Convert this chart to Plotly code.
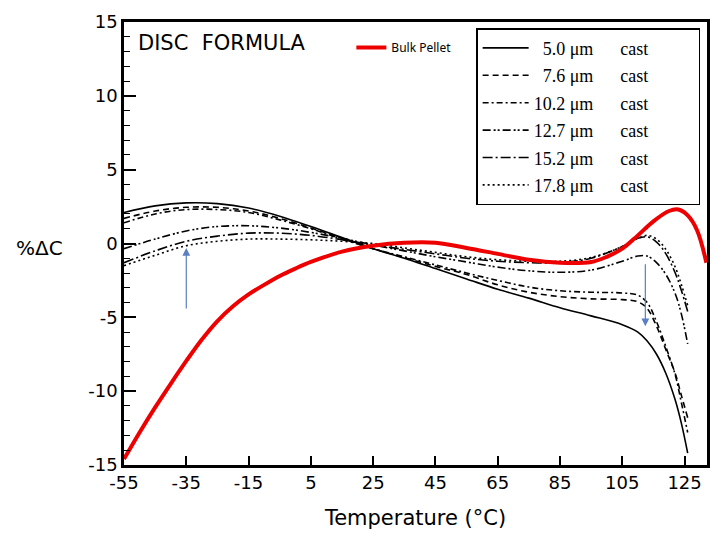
import plotly.graph_objects as go

# ---------------- data ----------------
temp_film = [-55, -45, -35, -25, -15, -5, 5, 15, 25, 35, 45, 55, 65, 75, 85, 95,
             105, 110, 113, 116, 119, 122, 124, 126]

film_5_0 = [2.1, 2.55, 2.75, 2.7, 2.4, 1.85, 1.15, 0.4, -0.35, -1.0, -1.7, -2.4, -3.1,
            -3.7, -4.35, -4.9, -5.5, -6.0, -6.6, -7.5, -8.8, -10.6, -12.2, -14.2]
film_7_6 = [1.7, 2.2, 2.45, 2.45, 2.2, 1.7, 1.05, 0.35, -0.35, -0.95, -1.55, -2.1, -2.8,
            -3.3, -3.6, -3.75, -3.8, -3.95, -4.4, -5.6, -7.2, -8.8, -10.3, -11.8]
film_10_2 = [1.4, 2.0, 2.3, 2.3, 2.1, 1.6, 1.0, 0.3, -0.35, -0.9, -1.45, -2.0, -2.5,
             -2.95, -3.2, -3.3, -3.35, -3.5, -4.0, -5.3, -7.0, -8.9, -10.8, -12.8]
film_12_7 = [-0.35, 0.3, 0.85, 1.15, 1.2, 1.05, 0.75, 0.35, -0.1, -0.5, -0.9, -1.25, -1.6,
             -1.85, -1.95, -1.8, -1.2, -0.85, -0.85, -1.3, -2.1, -3.4, -4.8, -6.8]
film_15_2 = [-1.3, -0.5, 0.15, 0.5, 0.7, 0.7, 0.55, 0.25, -0.1, -0.4, -0.7, -1.0, -1.2,
             -1.3, -1.3, -1.0, -0.2, 0.35, 0.45, 0.1, -0.7, -2.0, -3.2, -4.6]
film_17_8 = [-1.5, -0.8, -0.15, 0.15, 0.3, 0.3, 0.25, 0.15, 0.0, -0.3, -0.6, -0.9, -1.1,
             -1.2, -1.2, -0.95, -0.2, 0.35, 0.55, 0.3, -0.4, -1.6, -2.8, -4.2]

temp_bulk = [-55, -50, -45, -40, -35, -30, -25, -20, -15, -10, -5, 0, 5, 15, 25, 35, 45,
             55, 65, 75, 85, 95, 100, 105, 110, 115, 120, 123, 126, 129, 132]
bulk_pellet = [-14.6, -12.8, -11.1, -9.5, -7.95, -6.5, -5.25, -4.25, -3.45, -2.8, -2.2, -1.7,
               -1.25, -0.55, -0.15, 0.05, 0.05, -0.3, -0.7, -1.1, -1.3, -1.25, -0.9, -0.35,
               0.55, 1.5, 2.2, 2.3, 1.9, 0.9, -1.3]

film_names = ["\u20025.0 \u03bcm", "\u20027.6 \u03bcm", "10.2 \u03bcm", "12.7 \u03bcm",
              "15.2 \u03bcm", "17.8 \u03bcm"]
film_series = [film_5_0, film_7_6, film_10_2, film_12_7, film_15_2, film_17_8]
film_dashes = ["solid", "6px,4px", "6px,3px,2px,3px", "8px,3px,2px,2px,2px,3px",
               "10px,3px,2px,3px", "2px,3px"]

x_ticks = [-55, -35, -15, 5, 25, 45, 65, 85, 105, 125]
y_ticks = [-15, -10, -5, 0, 5, 10, 15]

fig = go.Figure()

for name, vals, dash in zip(film_names, film_series, film_dashes):
    fig.add_trace(go.Scatter(
        x=temp_film, y=vals, mode="lines", line_shape="spline",
        line=dict(color="black", width=1.6, dash=dash),
        name=name + "\u00a0" * 6 + "cast" + "\u00a0" * 10,
        legend="legend2", legendgroup=name,
    ))

fig.add_trace(go.Scatter(
    x=temp_bulk, y=bulk_pellet, mode="lines", line_shape="spline",
    line=dict(color="#ee0000", width=4), name="Bulk Pellet", legend="legend",
))

arrow_col = "#5a7fc4"
fig.add_annotation(x=-35, y=-0.3, ax=-35, ay=-4.5, xref="x", yref="y", axref="x", ayref="y",
                   text="", showarrow=True, arrowhead=2, arrowsize=1.3, arrowwidth=1.2,
                   arrowcolor=arrow_col)
fig.add_annotation(x=112.4, y=-5.6, ax=112.4, ay=-1.3, xref="x", yref="y", axref="x", ayref="y",
                   text="", showarrow=True, arrowhead=2, arrowsize=1.3, arrowwidth=1.2,
                   arrowcolor=arrow_col)

fig.add_annotation(text="DISC\u00a0\u00a0FORMULA", x=0.02, y=0.952, xref="paper", yref="paper",
                   xanchor="left", yanchor="middle", showarrow=False,
                   font=dict(family="DejaVu Sans", size=21, color="black"))
fig.add_annotation(text="%\u0394C", x=-0.145, y=0.49, xref="paper", yref="paper",
                   xanchor="center", yanchor="middle", showarrow=False,
                   font=dict(family="DejaVu Sans", size=20, color="black"))

axis_common = dict(showline=True, linecolor="black", linewidth=2.5, mirror=True,
                   ticks="inside", tickcolor="black", tickwidth=1.5, showgrid=False,
                   zeroline=False, tickfont=dict(family="DejaVu Sans", size=18, color="black"))

fig.update_layout(
    width=713, height=551,
    margin=dict(l=124, r=3, t=22, b=86),
    paper_bgcolor="white", plot_bgcolor="white",
    xaxis=dict(range=[-55, 132.2], tickvals=x_ticks, ticktext=[str(v) for v in x_ticks],
               ticklen=9,
               title=dict(text="Temperature (\u00b0C)", standoff=18,
                          font=dict(family="DejaVu Sans", size=21, color="black")),
               **axis_common),
    yaxis=dict(range=[-15, 15], tickvals=y_ticks, ticktext=[str(v) for v in y_ticks],
               ticklen=12,
               minor=dict(dtick=1, ticks="inside", ticklen=6, tickcolor="black", tickwidth=1.2),
               **axis_common),
    legend=dict(x=0.39, y=0.975, xanchor="left", yanchor="top", bgcolor="rgba(0,0,0,0)",
                borderwidth=0, itemwidth=30,
                font=dict(family="Noto Sans", size=12, color="black")),
    legend2=dict(x=0.604, y=0.986, xanchor="left", yanchor="top", bgcolor="white",
                 bordercolor="black", borderwidth=1.5, itemwidth=46, tracegroupgap=1,
                 font=dict(family="Liberation Serif", size=18, color="black")),
    showlegend=True,
)

fig.write_html("out.html")
